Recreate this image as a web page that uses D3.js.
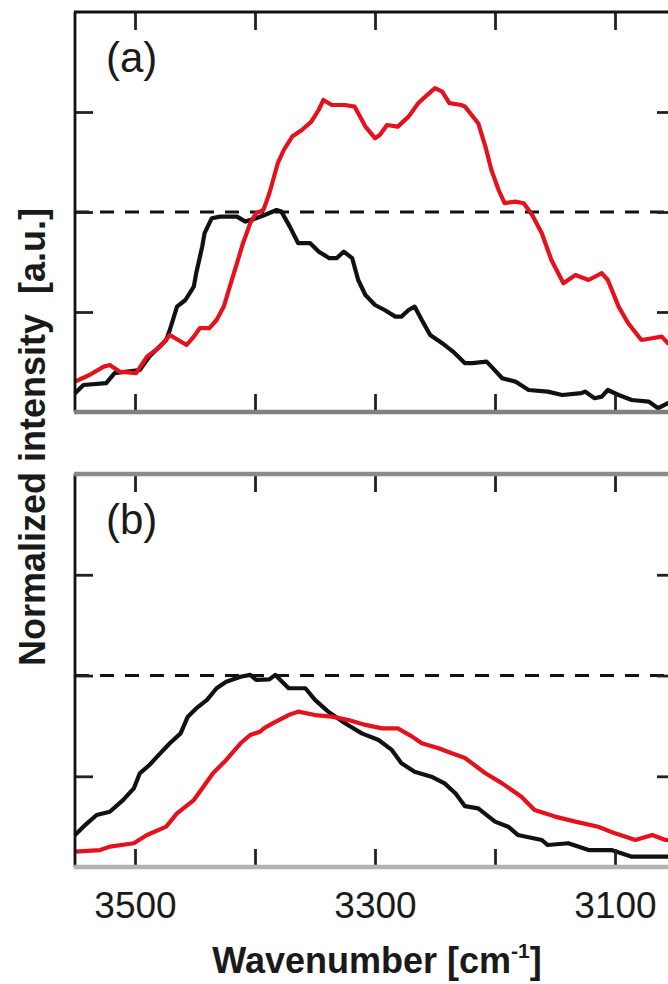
<!DOCTYPE html>
<html>
<head>
<meta charset="utf-8">
<script src="https://cdn.jsdelivr.net/npm/d3@7"></script>
<style>
  html, body { margin: 0; padding: 0; background: #fff; overflow: hidden; }
  svg { display: block; font-family: "Liberation Sans", Arial, sans-serif; }
</style>
</head>
<body>
<div id="chart"></div>
<script>
// panel (a)
const WN_A_BLACK = [3550, 3543, 3524, 3517, 3496, 3488, 3474, 3471, 3465, 3458, 3451, 3449, 3444, 3442, 3436, 3429, 3415, 3408, 3399, 3392, 3382, 3378, 3371, 3364, 3354, 3347, 3338, 3332, 3326, 3319, 3314, 3308, 3300, 3292, 3283, 3278, 3272, 3267, 3261, 3254, 3244, 3235, 3225, 3219, 3207, 3203, 3194, 3183, 3172, 3156, 3144, 3128, 3125, 3117, 3111, 3106, 3097, 3086, 3072, 3064, 3056, 3050];
const INT_A_BLACK = [0.094, 0.135, 0.144, 0.194, 0.21, 0.277, 0.36, 0.41, 0.527, 0.56, 0.627, 0.694, 0.827, 0.894, 0.969, 0.977, 0.977, 0.952, 0.969, 0.985, 1.01, 1.002, 0.927, 0.844, 0.844, 0.802, 0.769, 0.769, 0.802, 0.769, 0.66, 0.585, 0.535, 0.51, 0.477, 0.477, 0.51, 0.527, 0.46, 0.385, 0.344, 0.302, 0.244, 0.244, 0.252, 0.227, 0.169, 0.152, 0.11, 0.102, 0.085, 0.094, 0.102, 0.069, 0.077, 0.11, 0.085, 0.06, 0.052, 0.019, 0.044, 0.05];
const WN_A_RED = [3550, 3538, 3526, 3521, 3513, 3499, 3490, 3479, 3471, 3464, 3457, 3451, 3446, 3438, 3432, 3426, 3421, 3415, 3410, 3404, 3399, 3393, 3388, 3381, 3376, 3369, 3361, 3353, 3347, 3343, 3336, 3325, 3317, 3308, 3300, 3296, 3290, 3281, 3272, 3264, 3258, 3250, 3244, 3238, 3228, 3225, 3214, 3208, 3203, 3197, 3192, 3183, 3176, 3169, 3161, 3153, 3143, 3133, 3122, 3111, 3106, 3097, 3089, 3078, 3069, 3061, 3056, 3050];
const INT_A_RED = [0.152, 0.185, 0.227, 0.235, 0.202, 0.194, 0.277, 0.327, 0.385, 0.36, 0.335, 0.377, 0.419, 0.419, 0.46, 0.527, 0.627, 0.744, 0.844, 0.944, 0.994, 1.01, 1.094, 1.244, 1.31, 1.377, 1.41, 1.452, 1.51, 1.56, 1.535, 1.535, 1.527, 1.427, 1.369, 1.385, 1.435, 1.427, 1.477, 1.544, 1.577, 1.619, 1.602, 1.544, 1.535, 1.527, 1.444, 1.327, 1.21, 1.11, 1.044, 1.052, 1.044, 0.985, 0.894, 0.76, 0.644, 0.685, 0.66, 0.694, 0.66, 0.527, 0.444, 0.36, 0.369, 0.377, 0.344, 0.335];

// panel (b)
const WN_B_BLACK = [3550, 3543, 3532, 3521, 3510, 3501, 3496, 3488, 3479, 3471, 3462, 3456, 3449, 3440, 3432, 3424, 3412, 3404, 3399, 3388, 3383, 3372, 3358, 3350, 3339, 3325, 3311, 3297, 3286, 3278, 3267, 3253, 3242, 3233, 3225, 3214, 3200, 3189, 3181, 3161, 3156, 3139, 3122, 3103, 3086, 3056, 3050];
const INT_B_BLACK = [0.209, 0.25, 0.308, 0.324, 0.382, 0.44, 0.515, 0.556, 0.614, 0.664, 0.713, 0.796, 0.837, 0.879, 0.937, 0.969, 0.994, 1.003, 0.978, 0.981, 1.003, 0.937, 0.937, 0.879, 0.821, 0.763, 0.713, 0.68, 0.631, 0.565, 0.523, 0.498, 0.465, 0.416, 0.352, 0.341, 0.275, 0.25, 0.209, 0.184, 0.159, 0.168, 0.134, 0.134, 0.101, 0.101, 0.1];
const WN_B_RED = [3550, 3529, 3521, 3501, 3490, 3474, 3465, 3451, 3443, 3435, 3424, 3412, 3404, 3396, 3392, 3383, 3372, 3364, 3350, 3336, 3322, 3308, 3294, 3281, 3269, 3261, 3247, 3236, 3225, 3208, 3194, 3178, 3167, 3150, 3133, 3114, 3100, 3083, 3069, 3058, 3050];
const INT_B_RED = [0.126, 0.134, 0.151, 0.168, 0.209, 0.25, 0.316, 0.382, 0.448, 0.515, 0.581, 0.664, 0.705, 0.721, 0.74, 0.77, 0.804, 0.821, 0.804, 0.796, 0.779, 0.755, 0.738, 0.738, 0.697, 0.664, 0.639, 0.614, 0.591, 0.515, 0.465, 0.399, 0.333, 0.3, 0.275, 0.25, 0.217, 0.184, 0.209, 0.184, 0.18];

const X_TICKS = [3500, 3400, 3300, 3200, 3100];
const X_LABELS = [3500, 3300, 3100];
const Y_TICKS = [0.5, 1, 1.5];
const REFERENCE_LEVEL = 1;
const PANEL_LABELS = ["(a)", "(b)"];
const X_TITLE = "Wavenumber [cm";
const Y_TITLE = "Normalized intensity  [a.u.]";

const WIDTH = 668;
const HEIGHT = 984;
const LEFT = 75;
const RIGHT = 675; // right frame sits just outside the picture
const TICK = 18;
const RED = "#e5121d";
const INK = "#111";

const svg = d3.select("#chart").append("svg")
   .attr("width", WIDTH)
   .attr("height", HEIGHT);

const x = d3.scaleLinear().domain([3550, 3050]).range([LEFT, RIGHT]);

const panels = [
   { label: PANEL_LABELS[0], top: 12, bottom: 412, yMin: 0, series: [[WN_A_BLACK, INT_A_BLACK, INK], [WN_A_RED, INT_A_RED, RED]],
     topColor: INK, topWidth: 2.8, bottomColor: "#808080", bottomWidth: 4.5, showLabels: false },
   { label: PANEL_LABELS[1], top: 474, bottom: 867, yMin: 0.05, series: [[WN_B_BLACK, INT_B_BLACK, INK], [WN_B_RED, INT_B_RED, RED]],
     topColor: "#8a8a8a", topWidth: 4.5, bottomColor: "#b3b3b3", bottomWidth: 4.5, showLabels: true }
];

panels.forEach(p => {
   const y = d3.scaleLinear().domain([p.yMin, 2]).range([p.bottom, p.top]);
   const g = svg.append("g");

   // dashed reference level
   g.append("line")
      .attr("x1", LEFT).attr("x2", RIGHT)
      .attr("y1", y(REFERENCE_LEVEL)).attr("y2", y(REFERENCE_LEVEL))
      .attr("stroke", INK)
      .attr("stroke-width", 3)
      .attr("stroke-dasharray", "14,11");

   const line = d3.line()
      .x(d => x(d[0]))
      .y(d => y(d[1]));

   p.series.forEach(([wn, val, color]) => {
      g.append("path")
         .datum(wn.map((w, i) => [w, val[i]]))
         .attr("fill", "none")
         .attr("stroke", color)
         .attr("stroke-width", 4.2)
         .attr("stroke-linejoin", "round")
         .attr("d", line);
   });

   // inward ticks on all four sides
   const tickStyle = sel => {
      sel.select(".domain").remove();
      sel.selectAll(".tick line").attr("stroke", "#222").attr("stroke-width", 2.8);
   };
   g.append("g")
      .attr("transform", `translate(0,${p.top})`)
      .call(d3.axisTop(x).tickValues(X_TICKS).tickSize(-TICK).tickFormat(""))
      .call(tickStyle);
   const bottomAxis = g.append("g")
      .attr("transform", `translate(0,${p.bottom})`)
      .call(d3.axisBottom(x).tickValues(X_TICKS).tickSize(-TICK).tickPadding(25)
         .tickFormat(d => p.showLabels && X_LABELS.includes(d) ? d : ""))
      .call(tickStyle);
   bottomAxis.selectAll("text")
      .attr("font-family", "Liberation Sans, Arial, sans-serif")
      .attr("font-size", 37)
      .attr("fill", "#1a1a1a");
   g.append("g")
      .attr("transform", `translate(${LEFT},0)`)
      .call(d3.axisLeft(y).tickValues(Y_TICKS).tickSize(-TICK).tickFormat(""))
      .call(tickStyle);
   g.append("g")
      .attr("transform", `translate(${RIGHT},0)`)
      .call(d3.axisRight(y).tickValues(Y_TICKS).tickSize(-TICK).tickFormat(""))
      .call(tickStyle);

   // frame
   g.append("line").attr("x1", LEFT).attr("x2", LEFT).attr("y1", p.top).attr("y2", p.bottom)
      .attr("stroke", INK).attr("stroke-width", 2.8);
   g.append("line").attr("x1", RIGHT).attr("x2", RIGHT).attr("y1", p.top).attr("y2", p.bottom)
      .attr("stroke", INK).attr("stroke-width", 2.8);
   g.append("line").attr("x1", LEFT - 1).attr("x2", RIGHT + 1).attr("y1", p.top).attr("y2", p.top)
      .attr("stroke", p.topColor).attr("stroke-width", p.topWidth);
   g.append("line").attr("x1", LEFT - 1).attr("x2", RIGHT + 1).attr("y1", p.bottom).attr("y2", p.bottom)
      .attr("stroke", p.bottomColor).attr("stroke-width", p.bottomWidth);

   g.append("text")
      .attr("x", 106)
      .attr("y", p.top + 60)
      .attr("font-size", 42)
      .attr("fill", "#1a1a1a")
      .text(p.label);
});

// axis titles
svg.append("text")
   .attr("transform", "translate(45,437) rotate(-90)")
   .attr("text-anchor", "middle")
   .attr("font-size", 36)
   .attr("font-weight", "bold")
   .attr("fill", "#1a1a1a")
   .style("white-space", "pre")
   .text(Y_TITLE);

const xt = svg.append("text")
   .attr("x", 377)
   .attr("y", 973)
   .attr("text-anchor", "middle")
   .attr("font-size", 36)
   .attr("font-weight", "bold")
   .attr("fill", "#1a1a1a");
xt.append("tspan").text(X_TITLE);
xt.append("tspan").attr("font-size", 21).attr("dy", -15).text("-1");
xt.append("tspan").attr("dy", 15).text("]");
</script>
</body>
</html>
